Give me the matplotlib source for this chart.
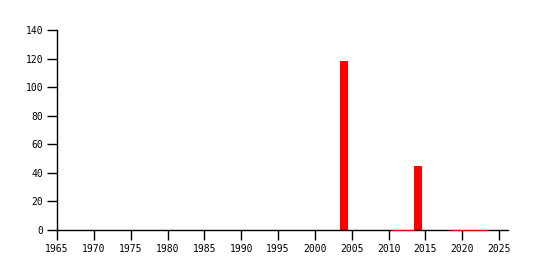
import matplotlib
matplotlib.use('agg')
import matplotlib.pyplot as plt

# yearly counts, zero years still drawn as flat bars
years = [2004, 2011, 2012, 2013, 2014, 2019, 2020, 2021, 2022, 2023]
counts = [118, 0, 0, 0, 45, 0, 0, 0, 0, 0]
xticks = list(range(1965, 2026, 5))
yticks = list(range(0, 141, 20))

plt.rcParams['font.family'] = 'DejaVu Sans Mono'
plt.rcParams['font.size'] = 7

fig = plt.figure(figsize=(5.35, 2.7), dpi=100)
ax = fig.add_axes([57/535, 40/270, 451/535, 200/270])

ax.bar(years, counts, width=1.1, color='red', linewidth=0)
# zero-height bars show up as a thin red line on the baseline
for yr, c in zip(years, counts):
    if c == 0:
        ax.plot([yr - 0.5, yr + 0.5], [0, 0], color='red', lw=0.75, zorder=5,
                solid_capstyle='butt', clip_on=False)

ax.set_xlim(1965, 2026.2)
ax.set_ylim(0, 140)
ax.set_xticks(xticks)
ax.set_yticks(yticks)
ax.spines['top'].set_visible(False)
ax.spines['right'].set_visible(False)
for s in ('left', 'bottom'):
    ax.spines[s].set_linewidth(1)
    ax.spines[s].set_color('black')
ax.spines['bottom'].set_zorder(2)
ax.tick_params(length=7, width=1, direction='out', pad=3)

fig.savefig('out.png', dpi=100)
